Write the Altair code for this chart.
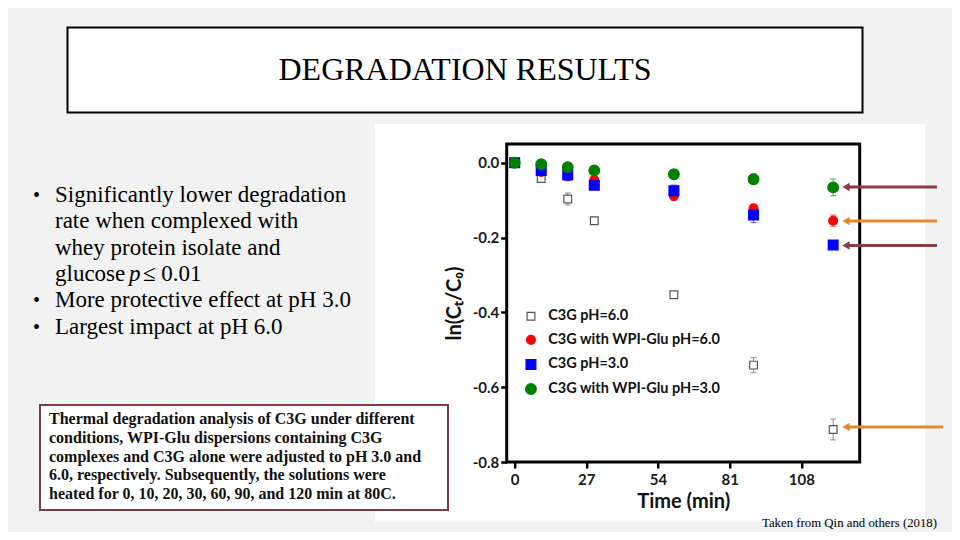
import altair as alt
import pandas as pd

# ---------------- data ----------------
times = [0, 10, 20, 30, 60, 90, 120]
series = ["C3G pH=6.0", "C3G with WPI-Glu pH=6.0", "C3G pH=3.0", "C3G with WPI-Glu pH=3.0"]
c3g_ph6 = [0.0, -0.042, -0.097, -0.155, -0.353, -0.541, -0.713]
c3g_ph6_err = [0.004, 0.008, 0.016, 0.008, 0.008, 0.020, 0.028]
wpi_ph6 = [0.0, -0.025, -0.036, -0.046, -0.089, -0.122, -0.155]
wpi_ph6_err = [0.004, 0.008, 0.012, 0.010, 0.012, 0.010, 0.015]
c3g_ph3 = [0.0, -0.021, -0.033, -0.060, -0.075, -0.140, -0.220]
c3g_ph3_err = [0.004, 0.008, 0.008, 0.010, 0.015, 0.020, 0.010]
wpi_ph3 = [0.0, -0.004, -0.012, -0.021, -0.031, -0.044, -0.066]
wpi_ph3_err = [0.004, 0.006, 0.008, 0.008, 0.012, 0.014, 0.022]

x_ticks = [0, 27, 54, 81, 108]
y_ticks = [0.0, -0.2, -0.4, -0.6, -0.8]

title_text = "DEGRADATION RESULTS"
bullet_lines = [
    "Significantly lower degradation",
    "rate when complexed with",
    "whey protein isolate and",
    None,  # glucose p <= 0.01 (mixed styles)
    "More protective effect at pH 3.0",
    "Largest impact at pH 6.0",
]
caption_lines = [
    "Thermal degradation analysis of C3G under different",
    "conditions, WPI-Glu dispersions containing C3G",
    "complexes and C3G alone were adjusted to pH 3.0 and",
    "6.0, respectively. Subsequently, the solutions were",
    "heated for 0, 10, 20, 30, 60, 90, and 120 min at 80C.",
]
credit_text = "Taken from Qin and others (2018)"

rows = []
for name, vals, errs in zip(series, [c3g_ph6, wpi_ph6, c3g_ph3, wpi_ph3],
                            [c3g_ph6_err, wpi_ph6_err, c3g_ph3_err, wpi_ph3_err]):
    for t, v, e in zip(times, vals, errs):
        rows.append({"series": name, "time": t, "value": v, "lo": v - e, "hi": v + e})
df = pd.DataFrame(rows)

# ---------------- layout (page pixels) ----------------
OX, OY = 506.7, 144.0
W, H = 353, 318
SLIDE = "#f2f2f2"

def px(x):
    return x - OX

def py(y):
    return y - OY

one = alt.Data(values=[{}])

def rect(x1, y1, x2, y2, fill, stroke="transparent", sw=0):
    return alt.Chart(one).mark_rect(fill=fill, stroke=stroke, strokeWidth=sw).encode(
        x=alt.value(px(x1)), x2=alt.value(px(x2)), y=alt.value(py(y1)), y2=alt.value(py(y2)))

def txt(s, x, y, size, font="Liberation Serif", align="left", weight="normal",
        style="normal", color="#000000", baseline="alphabetic"):
    return alt.Chart(one).mark_text(text=s, font=font, fontSize=size, align=align,
                                    baseline=baseline, fontWeight=weight, fontStyle=style,
                                    color=color).encode(x=alt.value(px(x)), y=alt.value(py(y)))

def arrow(y, x_tip, x_end, color):
    line = alt.Chart(one).mark_rule(color=color, strokeWidth=3).encode(
        x=alt.value(px(x_tip + 5)), x2=alt.value(px(x_end)), y=alt.value(py(y)))
    head = alt.Chart(one).mark_point(shape="triangle-left", filled=True, size=70,
                                     color=color, opacity=1).encode(
        x=alt.value(px(x_tip + 4)), y=alt.value(py(y)))
    return [line, head]

layers = []
# slide background around the white chart picture (375..925 x 124..522)
layers.append(rect(0, 0, 960, 124, SLIDE))
layers.append(rect(0, 522, 960, 540, SLIDE))
layers.append(rect(0, 124, 375, 522, SLIDE))
layers.append(rect(925, 124, 960, 522, SLIDE))

layers.append(rect(67.5, 27.5, 862.5, 112.5, "white", "black", 2))
layers.append(txt(title_text, 465, 80, 32, align="center"))

base_y = 201.7
step = 26.4
for i, line in enumerate(bullet_lines):
    yb = base_y + i * step
    if i in (0, 4, 5):
        layers.append(txt("\u2022", 33, yb, 20))
    if line is not None:
        layers.append(txt(line, 55, yb, 23))
    else:
        layers.append(txt("glucose", 55, yb, 23))
        layers.append(txt("p", 129, yb, 23, style="italic"))
        layers.append(txt("\u2264 0.01", 143, yb, 23))

layers.append(rect(40, 405, 448, 510, "white", "#7b3a48", 2))
for i, line in enumerate(caption_lines):
    layers.append(txt(line, 49, 424.3 + i * 18.7, 16, weight="bold", color="#111111"))

layers.append(txt(credit_text, 762, 527, 12.8))

# ---------------- chart ----------------
xs = alt.Scale(domain=[-3, 130], nice=False, zero=False)
ys = alt.Scale(domain=[-0.8, 0.05], nice=False, zero=False)
xaxis = alt.Axis(values=x_ticks, title="Time (min)", format="d", labelPadding=4, titlePadding=4,
                 zindex=2)
yaxis = alt.Axis(values=y_ticks, title="ln(C\u209c/C\u2080)",
                 labelExpr="replace(format(datum.value, '.1f'), '\u2212', '-')",
                 labelPadding=2, titlePadding=8, zindex=2)

X = alt.X("time:Q", scale=xs, axis=xaxis)

fill_scale = alt.Scale(domain=series, range=["white", "#ff0000", "#0000ff", "#008000"])
stroke_scale = alt.Scale(domain=series, range=["#555555", "#ff0000", "#0000ff", "#008000"])
shape_scale = alt.Scale(domain=series, range=["square", "circle", "square", "circle"])
size_scale = alt.Scale(domain=series, range=[60, 115, 85, 115])

leg = alt.Legend(title=None, orient="none", legendX=17, legendY=165,
                 labelFont="Lato", labelFontWeight="bold", labelFontSize=14.5,
                 labelColor="#111111", rowPadding=8.6, padding=0, labelOffset=10,
                 symbolStrokeWidth=1.2, symbolOpacity=1, labelLimit=400)

STROKE = alt.Stroke("series:N", scale=stroke_scale, legend=leg, sort=series)

layers.append(rect(OX, OY, OX + W, OY + H, "transparent", "black", 3))

err = alt.Chart(df).mark_rule(strokeWidth=1.2, opacity=0.55).encode(
    x=X, y=alt.Y("lo:Q", scale=ys, axis=yaxis), y2="hi:Q", stroke=STROKE)
cap_lo = alt.Chart(df).mark_rule(strokeWidth=1.2, opacity=0.55, xOffset=-3, x2Offset=3).encode(
    x=X, x2="time:Q", y=alt.Y("lo:Q", scale=ys, axis=yaxis), stroke=STROKE)
cap_hi = alt.Chart(df).mark_rule(strokeWidth=1.2, opacity=0.55, xOffset=-3, x2Offset=3).encode(
    x=X, x2="time:Q", y=alt.Y("hi:Q", scale=ys, axis=yaxis), stroke=STROKE)
points = alt.Chart(df).mark_point(opacity=1, strokeWidth=1.2).encode(
    x=X, y=alt.Y("value:Q", scale=ys, axis=yaxis),
    fill=alt.Fill("series:N", scale=fill_scale, legend=leg, sort=series),
    stroke=STROKE,
    shape=alt.Shape("series:N", scale=shape_scale, legend=leg, sort=series),
    size=alt.Size("series:N", scale=size_scale, legend=leg, sort=series),
)
layers += [err, cap_lo, cap_hi, points]

layers += arrow(187, 842, 937, "#8c3a44")
layers += arrow(221, 842, 937, "#e3892b")
layers += arrow(245.5, 842, 937, "#8c3a44")
layers += arrow(427, 842, 943, "#e3892b")

chart = alt.layer(*layers).properties(
    width=W, height=H,
    autosize=alt.AutoSizeParams(type="none"),
    padding={"left": OX - 8, "top": OY - 8, "right": 944 - (OX - 8) - W, "bottom": 524 - (OY - 8) - H},
    background="white",
).configure_view(stroke=None).configure_axis(
    domain=False, grid=False, tickColor="black", tickWidth=2.5, tickSize=6,
    labelFont="Lato", labelFontWeight="bold", labelFontSize=15, labelColor="#1a1a1a",
    titleFont="Lato", titleFontWeight="bold", titleFontSize=20, titleColor="#111111",
)

chart.save("out.html", embed_options={"renderer": "svg", "actions": False})
